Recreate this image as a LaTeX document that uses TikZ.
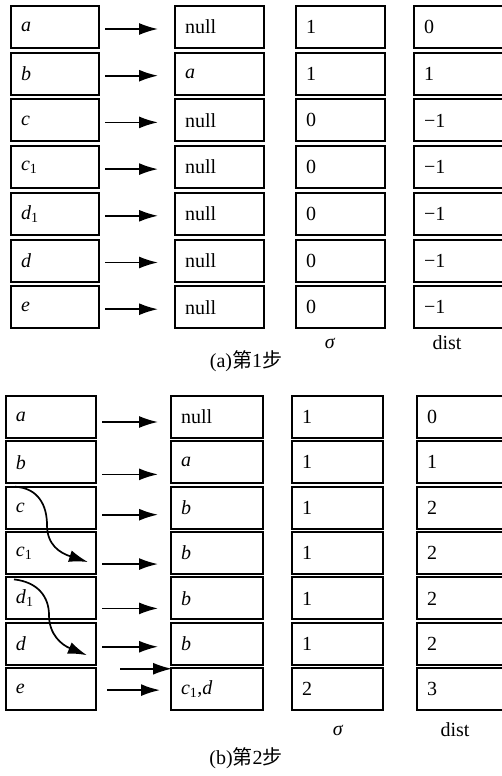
\documentclass[tikz,border=0pt]{standalone}
\usepackage{fontspec}
\setmainfont{Liberation Serif}
\newfontfamily\cjk{Noto Sans CJK SC}
\usetikzlibrary{arrows.meta,calc}
\newcommand\vi[1]{\textit{#1}}
\newcommand\vs[1]{\textit{#1}\textsubscript{1}}
\begin{document}
\begin{tikzpicture}[x=1pt,y=-1pt,
  font=\fontsize{20}{22}\selectfont,
  cellbox/.style={draw, line width=2pt, anchor=north west, minimum height=42pt,
    inner ysep=0pt, inner xsep=10pt, align=left},
  cw/.style 2 args={minimum width=#1pt, text width=#2pt},
  arr/.style={line width=1.7pt, -{Latex[length=19pt,width=12pt]}},
  lbl/.style={inner sep=0pt}]
\useasboundingbox (0,0) rectangle (502,776);

% ---------- (a) ----------
\foreach \r/\ca/\cb/\cc/\cd [evaluate=\r as \yy using 5+(\r-1)*46.7] in
 {1/{\vi{a}}/null/1/0,
  2/{\vi{b}}/{\vi{a}}/1/1,
  3/{\vi{c}}/null/0/−1,
  4/{\vs{c}}/null/0/−1,
  5/{\vs{d}}/null/0/−1,
  6/{\vi{d}}/null/0/−1,
  7/{\vi{e}}/null/0/−1}{
  \node[cellbox, cw={88}{68}] (A\r-1) at (10,\yy) {\ca};
  \node[cellbox, cw={89}{69}] (A\r-2) at (174,\yy) {\cb};
  \node[cellbox, cw={89}{69}] (A\r-3) at (295,\yy) {\cc};
  \node[cellbox, cw={91}{71}] (A\r-4) at (413,\yy) {\cd};
  \draw[arr] ($(A\r-1.east)+(5,2)$) -- ($(A\r-2.west)+(-16,2)$);
}
\node[lbl] (sa) at (330,343) {\vi{σ}};
\node[lbl] (da) at (447,343) {dist};
\node[lbl, font=\fontsize{20}{22}\selectfont] (capa) at (246,361) {(a){\cjk 第}1{\cjk 步}};

% ---------- (b) ----------
\foreach \r/\ca/\cb/\cc/\cd/\dy/\sa/\sb [evaluate=\r as \yy using 395+(\r-1)*45.35] in
 {1/{\vi{a}}/null/1/0/5/5/12,
  2/{\vi{b}}/{\vi{a}}/1/1/12/5/12,
  3/{\vi{c}}/{\vi{b}}/1/2/7/5/12,
  4/{\vs{c}}/{\vi{b}}/1/2/11/5/12,
  5/{\vs{d}}/{\vi{b}}/1/2/10/5/12,
  6/{\vi{d}}/{\vi{b}}/1/2/3/5/12,
  7/{\vi{e}}/{\vs{c},\vi{d}}/2/3/1/10/10}{
  \node[cellbox, cw={90}{70}] (B\r-1) at (5,\yy) {\ca};
  \node[cellbox, cw={92}{72}] (B\r-2) at (170,\yy) {\cb};
  \node[cellbox, cw={91}{71}] (B\r-3) at (291,\yy) {\cc};
  \node[cellbox, cw={88}{68}] (B\r-4) at (416,\yy) {\cd};
  \draw[arr] ($(B\r-1.east)+(\sa,\dy)$) -- ($(B\r-2.west)+(-\sb,\dy)$);
}
% curved arrows
\draw[arr] ($(B3-1.north west)+(10,1)$) .. controls (38,488) and (47,505) .. (47,525)
  .. controls (47,545) and (60,553) .. ($(B4-1.east)+(-9,9)$);
\draw[arr] ($(B5-1.north west)+(9,3)$) .. controls (38,582) and (49,597) .. (49,615)
  .. controls (49,635) and (62,645) .. ($(B6-1.east)+(-10,11.5)$);
% extra arrow into c1,d
\coordinate (xs) at ($(B6-1.south east)+(23,3)$);
\draw[arr] (xs) -- ($(B6-2.south west)+(2,3)$);

\node[lbl] (sb) at (338,730) {\vi{σ}};
\node[lbl] (db) at (455,730) {dist};
\node[lbl, font=\fontsize{20}{22}\selectfont] (capb) at (246,758) {(b){\cjk 第}2{\cjk 步}};
\end{tikzpicture}
\end{document}
